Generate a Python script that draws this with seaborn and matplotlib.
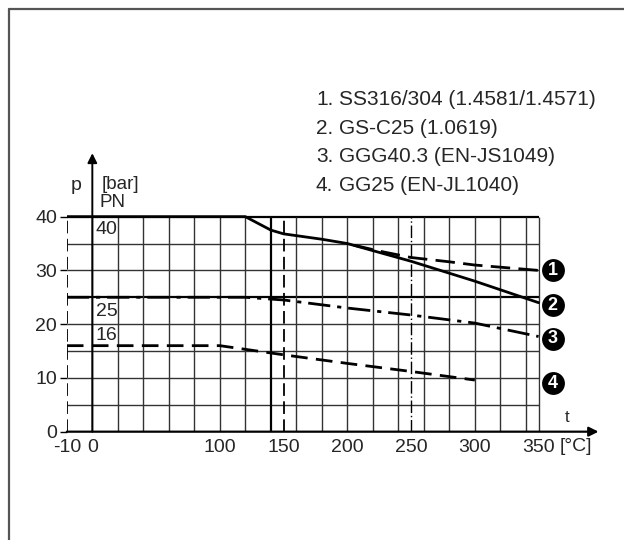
import numpy as np
import pandas as pd
import matplotlib
matplotlib.use("Agg")
import matplotlib.pyplot as plt
import seaborn as sns

# pressure/temperature ratings
# (the "-10" edge of the chart sits one grid step left of 0, so it is drawn at -20)
t_gs = [-20, 120, 140, 150, 180, 200, 250, 300, 350]
p_gs = [40, 40, 37.5, 36.8, 35.8, 35.0, 31.7, 28.0, 24.0]

t_ss = [205, 225, 250, 280, 300, 350]
p_ss = [34.7, 33.6, 32.4, 31.6, 31.0, 30.0]

t_ggg = [-20, 120, 150, 200, 250, 300, 350]
p_ggg = [25, 25, 24.5, 23.0, 21.7, 20.2, 17.7]

t_gg = [-20, 100, 150, 200, 250, 300]
p_gg = [16, 16, 14.3, 12.7, 11.2, 9.6]

materials = ["SS316/304 (1.4581/1.4571)", "GS-C25 (1.0619)",
             "GGG40.3 (EN-JS1049)", "GG25 (EN-JL1040)"]
marker_y = [30.0, 23.5, 17.3, 9.0]

x_ticks = [-20, 0, 100, 150, 200, 250, 300, 350]
x_tick_labels = ["-10", "0", "100", "150", "200", "250", "300", "350"]
y_ticks = [0, 10, 20, 30, 40]
x_grid = [0, 20, 40, 60, 80, 100, 120, 160, 180, 200, 220, 240, 260, 280, 300, 320, 340, 350]
y_grid = [0, 5, 10, 15, 20, 30, 35]
pn_levels = [40, 25, 16]

sns.set_theme(style="white")
plt.rcParams['font.family'] = ['Liberation Sans', 'DejaVu Sans']

fig = plt.figure(figsize=(6.24, 5.4), dpi=100)
ax = fig.add_axes([0.1071, 0.2006, 0.8888, 0.5276])
ax.set_xlim(-20, 415)
ax.set_ylim(0, 53)

# grid
ax.hlines(y_grid, -20, 350, color="#333333", lw=1.0, zorder=1)
ax.hlines([25, 40], -20, 350, color="black", lw=1.6, zorder=1)
ax.vlines(x_grid, 0, 40, color="#333333", lw=1.0, zorder=1)
ax.vlines([140], 0, 40, color="black", lw=1.6, zorder=1)
ax.vlines([-20, 150], 0, 40, color="black", lw=1.3, linestyles=[(0, (7, 3))], zorder=1)
ax.vlines([250], 0, 40, color="black", lw=1.0, linestyles=[(0, (9, 2, 1, 2))], zorder=1)

# curves
sns.lineplot(x=t_gs, y=p_gs, color="black", lw=2.0, sort=False, ax=ax, zorder=3)
sns.lineplot(x=t_ss, y=p_ss, color="black", lw=2.0, sort=False, ax=ax, zorder=3,
             linestyle=(0, (7, 3)))
sns.lineplot(x=t_ggg, y=p_ggg, color="black", lw=2.0, sort=False, ax=ax, zorder=3,
             linestyle=(0, (8, 2.5, 1.5, 2.5)))
sns.lineplot(x=t_gg, y=p_gg, color="black", lw=2.0, sort=False, ax=ax, zorder=3,
             linestyle=(0, (6, 3)))

# axes arrows
ax.annotate("", xy=(397, 0), xytext=(-20, 0),
            arrowprops=dict(arrowstyle="-|>", color="black", lw=1.6,
                            mutation_scale=14, shrinkA=0, shrinkB=0), zorder=4)
ax.annotate("", xy=(0, 51.8), xytext=(0, 0),
            arrowprops=dict(arrowstyle="-|>", color="black", lw=1.4,
                            mutation_scale=14, shrinkA=0, shrinkB=0), zorder=4)

# numbered markers
sns.scatterplot(x=[361] * 4, y=marker_y, s=320, color="black", ax=ax,
                zorder=5, clip_on=False, legend=False)
for i, yv in enumerate(marker_y):
    ax.text(361, yv, str(i + 1), color="white", fontsize=13, fontweight="bold",
            ha="center", va="center", zorder=6)

# PN labels
pn_offsets = [-2.3, -2.6, 1.8]
for lvl, off in zip(pn_levels, pn_offsets):
    ax.text(2.5, lvl + off, str(lvl), fontsize=14, ha="left", va="center")
ax.text(6, 42.6, "PN", fontsize=13.5, ha="left", va="center")
ax.text(7, 46.0, "[bar]", fontsize=13.5, ha="left", va="center")
ax.text(-13, 45.8, "p", fontsize=14, ha="center", va="center")
ax.text(372, 2.6, "t", fontsize=12, ha="center", va="center")
ax.text(379, -1.1, "[°C]", fontsize=14, ha="center", va="top")

ax.set_xticks(x_ticks)
ax.set_xticklabels(x_tick_labels)
ax.set_yticks(y_ticks)
ax.tick_params(axis="x", length=0, pad=5, labelsize=14)
ax.tick_params(axis="y", length=5, width=1, pad=2, labelsize=14, left=True, color="black")
for s in ax.spines.values():
    s.set_visible(False)
ax.set_xlabel("")
ax.set_ylabel("")

# material list
legend_y = [100, 128.5, 157, 185.5]
for i, (name, yp) in enumerate(zip(materials, legend_y)):
    fig.text(316 / 624, 1 - yp / 540, f"{i + 1}.", fontsize=15, ha="left", va="center")
    fig.text(339 / 624, 1 - yp / 540, name, fontsize=15, ha="left", va="center")

# frame lines at the top and left of the picture
fig.add_artist(plt.Line2D([9 / 624, 1], [1 - 9 / 540, 1 - 9 / 540], color="#555555", lw=1.6))
fig.add_artist(plt.Line2D([9 / 624, 9 / 624], [0, 1 - 9 / 540], color="#555555", lw=1.6))

fig.savefig("out.png", dpi=100)
